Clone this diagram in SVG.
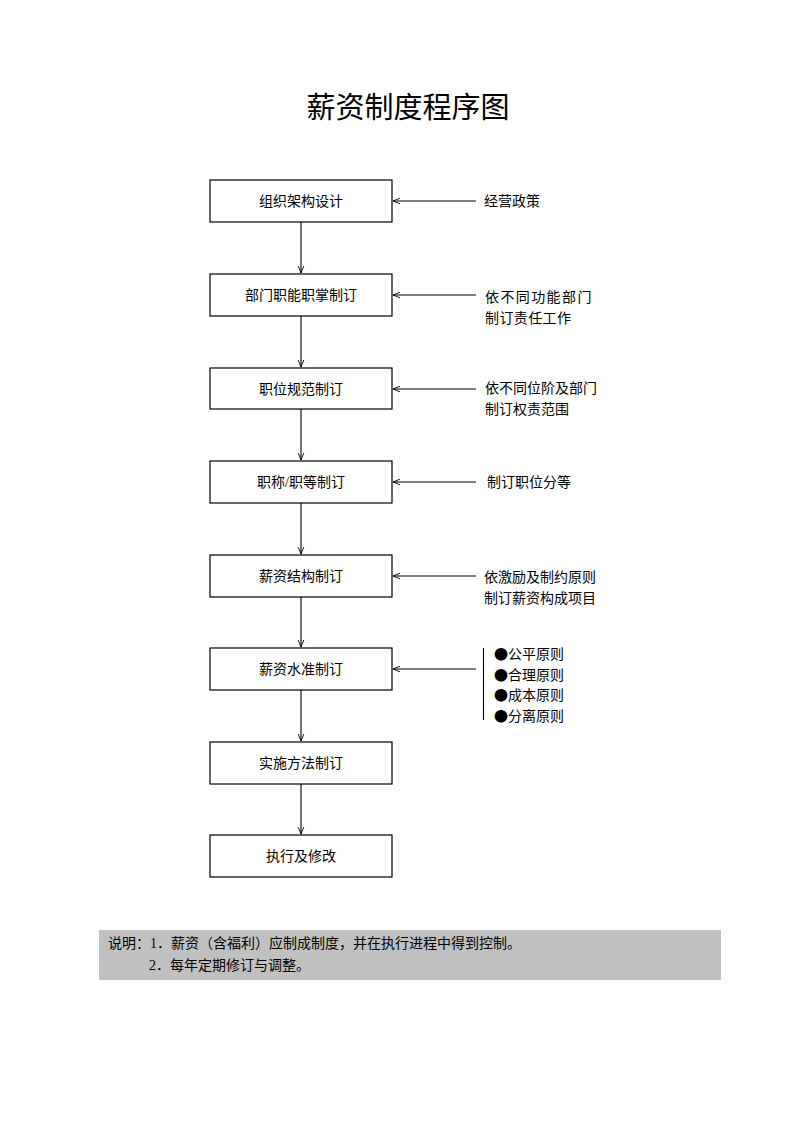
<svg xmlns="http://www.w3.org/2000/svg" width="793" height="1122" viewBox="0 0 793 1122">
<style>
text{font-family:"Liberation Serif","Noto Sans CJK SC",serif;fill:#000}
.t{font-size:14px}
.c{text-anchor:middle}
.b{font-family:"Noto Sans CJK SC",sans-serif}
.box{fill:#fff;stroke:#000;stroke-width:1.2}
.ln{stroke:#000;stroke-width:1.1;fill:none}
</style>
<defs>
<marker id="ah" viewBox="0 0 10 10" refX="10" refY="5" markerWidth="7" markerHeight="7" orient="auto" markerUnits="userSpaceOnUse">
<path d="M0,1 L10,5 L0,9" fill="none" stroke="#000" stroke-width="1.3"/>
</marker>
</defs>
<rect width="793" height="1122" fill="#fff"/>
<text x="408" y="118" class="c" style="font-family:'Noto Sans CJK SC',sans-serif;font-size:29px">薪资制度程序图</text>
<g id="connectors">
<line class="ln" x1="301" y1="222" x2="301" y2="273" marker-end="url(#ah)"/>
<line class="ln" x1="301" y1="316" x2="301" y2="367" marker-end="url(#ah)"/>
<line class="ln" x1="301" y1="409" x2="301" y2="460" marker-end="url(#ah)"/>
<line class="ln" x1="301" y1="503" x2="301" y2="554" marker-end="url(#ah)"/>
<line class="ln" x1="301" y1="597" x2="301" y2="647" marker-end="url(#ah)"/>
<line class="ln" x1="301" y1="690" x2="301" y2="741" marker-end="url(#ah)"/>
<line class="ln" x1="301" y1="784" x2="301" y2="834" marker-end="url(#ah)"/>
<line class="ln" x1="476" y1="201" x2="393" y2="201" marker-end="url(#ah)"/>
<line class="ln" x1="476" y1="295" x2="393" y2="295" marker-end="url(#ah)"/>
<line class="ln" x1="476" y1="389" x2="393" y2="389" marker-end="url(#ah)"/>
<line class="ln" x1="476" y1="482" x2="393" y2="482" marker-end="url(#ah)"/>
<line class="ln" x1="476" y1="576" x2="393" y2="576" marker-end="url(#ah)"/>
<line class="ln" x1="476" y1="669" x2="393" y2="669" marker-end="url(#ah)"/>
<line class="ln" x1="483.5" y1="648" x2="483.5" y2="720"/>
</g>
<g id="n1"><rect class="box" x="210" y="180" width="182" height="42"/><text class="t c" x="301" y="206">组织架构设计</text></g>
<g id="n2"><rect class="box" x="210" y="274" width="182" height="42"/><text class="t c" x="301" y="300">部门职能职掌制订</text></g>
<g id="n3"><rect class="box" x="210" y="368" width="182" height="41"/><text class="t c" x="301" y="394">职位规范制订</text></g>
<g id="n4"><rect class="box" x="210" y="461" width="182" height="42"/><text class="t c" x="301" y="487">职称/职等制订</text></g>
<g id="n5"><rect class="box" x="210" y="555" width="182" height="42"/><text class="t c" x="301" y="581">薪资结构制订</text></g>
<g id="n6"><rect class="box" x="210" y="648" width="182" height="42"/><text class="t c" x="301" y="674">薪资水准制订</text></g>
<g id="n7"><rect class="box" x="210" y="742" width="182" height="42"/><text class="t c" x="301" y="768">实施方法制订</text></g>
<g id="n8"><rect class="box" x="210" y="835" width="182" height="42"/><text class="t c" x="301" y="861">执行及修改</text></g>
<g id="s1"><text class="t" x="484" y="206">经营政策</text></g>
<g id="s2"><text class="t" x="485" y="302" letter-spacing="1.4">依不同功能部门</text><text class="t" x="485" y="323" letter-spacing="0.4">制订责任工作</text></g>
<g id="s3"><text class="t" x="485" y="393">依不同位阶及部门</text><text class="t" x="485" y="414">制订权责范围</text></g>
<g id="s4"><text class="t" x="487" y="487">制订职位分等</text></g>
<g id="s5"><text class="t" x="484" y="582">依激励及制约原则</text><text class="t" x="484" y="603">制订薪资构成项目</text></g>
<g id="s6"><text class="t" x="494" y="659"><tspan class="b">●</tspan>公平原则</text><text class="t" x="494" y="680"><tspan class="b">●</tspan>合理原则</text><text class="t" x="494" y="700"><tspan class="b">●</tspan>成本原则</text><text class="t" x="494" y="721"><tspan class="b">●</tspan>分离原则</text></g>
<g id="note">
<rect x="99" y="930" width="622" height="50" fill="#c0c0c0"/>
<text class="t" x="108" y="948">说明：1．薪资（含福利）应制成制度，并在执行进程中得到控制。</text>
<text class="t" x="149" y="970">2．每年定期修订与调整。</text>
</g>
</svg>
